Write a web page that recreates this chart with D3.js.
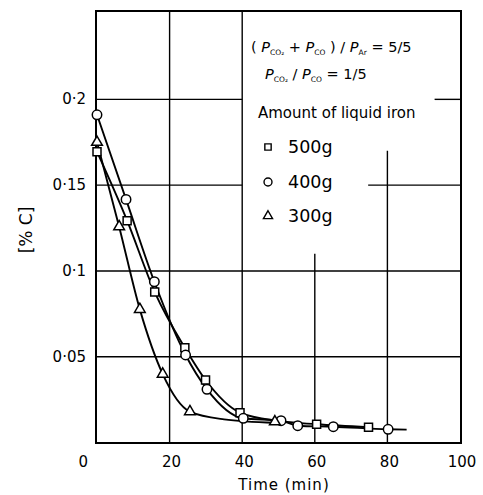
<!DOCTYPE html>
<html>
<head>
<meta charset="utf-8">
<script src="https://cdn.jsdelivr.net/npm/d3@7"></script>
<style>
  html, body { margin: 0; padding: 0; background: #fff; }
  svg { display: block; font-family: "DejaVu Sans", sans-serif; }
</style>
</head>
<body>
<svg id="chart" width="483" height="495"></svg>
<script>
// ---- data ----
const xTickValues = [0, 20, 40, 60, 80, 100];
const xTickLabels = ["0", "20", "40", "60", "80", "100"];
const yTickValues = [0.05, 0.1, 0.15, 0.2];
const yTickLabels = ["0·05", "0·1", "0·15", "0·2"];

const time500 = [0, 8.3, 15.9, 24.2, 29.9, 39.4, 60.5, 74.8];
const carbon500 = [0.1695, 0.1293, 0.0877, 0.0552, 0.0364, 0.0174, 0.0106, 0.0089];

const time400 = [0, 8.0, 15.8, 24.4, 30.3, 40.3, 50.7, 55.3, 65.1, 80.2];
const carbon400 = [0.191, 0.1417, 0.0937, 0.051, 0.031, 0.0141, 0.0127, 0.0098, 0.0092, 0.0077];

const time300 = [0, 6.1, 11.8, 18.1, 25.6, 49.0];
const carbon300 = [0.175, 0.1258, 0.0776, 0.0399, 0.018, 0.0121];

// fitted curve nodes (hand-drawn smoothing lines)
const curveTime500 = [0, 8.3, 15.9, 24.2, 29.9, 39.4, 50, 60.5, 74.8];
const curveC500 = [0.1695, 0.1293, 0.0877, 0.0552, 0.0364, 0.0174, 0.0125, 0.0106, 0.0089];
const curveTime400 = [0, 8.0, 15.8, 24.4, 30.3, 40.3, 50.7, 55.3, 65.1, 80.2, 85.3];
const curveC400 = [0.191, 0.1417, 0.0937, 0.051, 0.031, 0.0141, 0.0127, 0.0098, 0.0092, 0.0077, 0.0075];
const curveTime300 = [0, 6.1, 11.8, 18.1, 25.6, 35, 49.0];
const curveC300 = [0.175, 0.1258, 0.0776, 0.0399, 0.018, 0.0135, 0.0115];

const legendLabels = ["500g", "400g", "300g"];
const legendTitle = "Amount of liquid iron";

// ---- layout ----
const svg = d3.select("#chart");
const x = d3.scaleLinear().domain([0, 100]).range([97, 460]);
const y = d3.scaleLinear().domain([0, 0.2515]).range([442.5, 11]);
const pL = 96, pR = 461, pT = 11, pB = 443;

const grid = svg.append("g").attr("stroke", "#000").attr("stroke-width", 1.4);
// vertical grid lines
grid.append("line").attr("x1", x(20)).attr("x2", x(20)).attr("y1", pT).attr("y2", pB);
grid.append("line").attr("x1", x(40)).attr("x2", x(40)).attr("y1", pT).attr("y2", pB);
grid.append("line").attr("x1", x(60)).attr("x2", x(60)).attr("y1", y(0.110)).attr("y2", pB);
grid.append("line").attr("x1", x(80)).attr("x2", x(80)).attr("y1", y(0.170)).attr("y2", pB);
// horizontal grid lines
grid.append("line").attr("x1", pL).attr("x2", pR).attr("y1", y(0.05)).attr("y2", y(0.05));
grid.append("line").attr("x1", pL).attr("x2", pR).attr("y1", y(0.1)).attr("y2", y(0.1));
grid.append("line").attr("x1", pL).attr("x2", x(40)).attr("y1", y(0.15)).attr("y2", y(0.15));
grid.append("line").attr("x1", x(74.7)).attr("x2", pR).attr("y1", y(0.15)).attr("y2", y(0.15));
grid.append("line").attr("x1", pL).attr("x2", x(40)).attr("y1", y(0.2)).attr("y2", y(0.2));
grid.append("line").attr("x1", x(93)).attr("x2", pR).attr("y1", y(0.2)).attr("y2", y(0.2));

// frame
svg.append("rect").attr("x", pL).attr("y", pT).attr("width", pR - pL).attr("height", pB - pT)
  .attr("fill", "none").attr("stroke", "#000").attr("stroke-width", 2);

// tick labels
const xl = svg.append("g").attr("font-size", 15).attr("fill", "#000");
xTickValues.forEach((v, i) => {
  xl.append("text")
    .attr("x", v === 0 ? x(v) - 9 : x(v) + 2)
    .attr("y", 467)
    .attr("text-anchor", v === 0 ? "end" : "middle")
    .text(xTickLabels[i]);
});
const yl = svg.append("g").attr("font-size", 15).attr("fill", "#000");
yTickValues.forEach((v, i) => {
  yl.append("text").attr("x", 86).attr("y", y(v) + 5).attr("text-anchor", "end").text(yTickLabels[i]);
});

// axis titles
svg.append("text").attr("x", 284).attr("y", 490).attr("text-anchor", "middle")
  .attr("font-size", 15).attr("letter-spacing", 1).text("Time (min)");
svg.append("text").attr("transform", "translate(32,230) rotate(-90)").attr("text-anchor", "middle")
  .attr("font-size", 17).text("[% C]");

// curves
const line = d3.line().x(d => x(d[0])).y(d => y(d[1])).curve(d3.curveMonotoneX);
const curves = [
  d3.zip(curveTime500, curveC500),
  d3.zip(curveTime400, curveC400),
  d3.zip(curveTime300, curveC300)
];
svg.append("g").selectAll("path").data(curves).join("path")
  .attr("d", line).attr("fill", "none").attr("stroke", "#000").attr("stroke-width", 1.9);

// markers
const sq = d3.symbol().type(d3.symbolSquare).size(64);
const ci = d3.symbol().type(d3.symbolCircle).size(70);
const tr = d3.symbol().type(d3.symbolTriangle).size(50);
const symbols = [sq, ci, tr];
const pts = [d3.zip(time500, carbon500), d3.zip(time400, carbon400), d3.zip(time300, carbon300)];
pts.forEach((arr, k) => {
  svg.append("g").selectAll("path").data(arr).join("path")
    .attr("transform", d => `translate(${x(d[0])},${y(d[1])})`)
    .attr("d", symbols[k]).attr("fill", "#fff").attr("stroke", "#000").attr("stroke-width", 1.5);
});

// annotation / legend
const ann = svg.append("g").attr("fill", "#000");
const t1 = ann.append("text").attr("x", 251).attr("y", 52).attr("font-size", 14.5);
t1.append("tspan").text("( ");
t1.append("tspan").attr("font-style", "italic").text("P");
t1.append("tspan").attr("font-size", 7.5).attr("dy", 3).text("CO₂");
t1.append("tspan").attr("dy", -3).text(" + ");
t1.append("tspan").attr("font-style", "italic").text("P");
t1.append("tspan").attr("font-size", 7.5).attr("dy", 3).text("CO");
t1.append("tspan").attr("dy", -3).text(" ) / ");
t1.append("tspan").attr("font-style", "italic").text("P");
t1.append("tspan").attr("font-size", 7.5).attr("dy", 3).text("Ar");
t1.append("tspan").attr("dy", -3).text(" = 5/5");

const t2 = ann.append("text").attr("x", 265).attr("y", 79).attr("font-size", 14.5);
t2.append("tspan").attr("font-style", "italic").text("P");
t2.append("tspan").attr("font-size", 7.5).attr("dy", 3).text("CO₂");
t2.append("tspan").attr("dy", -3).text(" / ");
t2.append("tspan").attr("font-style", "italic").text("P");
t2.append("tspan").attr("font-size", 7.5).attr("dy", 3).text("CO");
t2.append("tspan").attr("dy", -3).text(" = 1/5");

ann.append("text").attr("x", 258).attr("y", 118).attr("font-size", 15).text(legendTitle);

const legY = [147, 182, 216];
const legSyms = [d3.symbol().type(d3.symbolSquare).size(40), d3.symbol().type(d3.symbolCircle).size(50), d3.symbol().type(d3.symbolTriangle).size(36)];
legendLabels.forEach((lab, i) => {
  ann.append("path").attr("transform", `translate(268,${legY[i]})`).attr("d", legSyms[i])
    .attr("fill", "#fff").attr("stroke", "#000").attr("stroke-width", 1.4);
  ann.append("text").attr("x", 288).attr("y", legY[i] + 6).attr("font-size", 17.5).text(lab);
});
</script>
</body>
</html>
